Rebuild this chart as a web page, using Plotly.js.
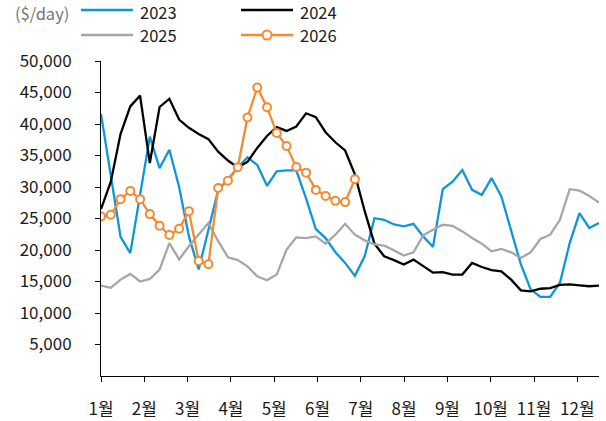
<!DOCTYPE html>
<html>
<head>
<meta charset="utf-8">
<script src="https://cdn.plot.ly/plotly-3.0.1.min.js"></script>
<style>html,body{margin:0;padding:0;background:#fff;}#chart{width:606px;height:421px;}</style>
</head>
<body>
<div id="chart"></div>
<script>
// ---- data (weekly, $/day) ----
const monthLabels = ['1월','2월','3월','4월','5월','6월','7월','8월','9월','10월','11월','12월'];
const seriesNames = ['2023','2024','2025','2026'];
const y2023 = [41600,31900,22100,19500,28800,38000,33000,35900,30000,22200,16900,23000,29500,31200,33100,34700,33500,30200,32500,32650,32650,28200,23300,21900,19650,17950,15900,19000,25050,24800,24050,23750,24150,22150,20500,29650,30850,32700,29550,28750,31400,28500,23200,17700,13750,12550,12550,14800,21100,25850,23500,24300];
const y2024 = [26500,30800,38400,42800,44500,33800,42700,44000,40700,39400,38400,37600,35600,34200,33100,34000,36200,38100,39500,38900,39600,41700,41100,38700,37100,35800,32000,26200,21000,19000,18400,17700,18470,17420,16400,16500,16100,16100,17950,17300,16800,16600,15300,13600,13450,13850,13950,14450,14550,14400,14250,14350];
const y2025 = [14350,14000,15300,16200,15000,15400,16900,21100,18500,20600,22450,24280,21400,18850,18400,17400,15830,15200,16100,20050,22000,21900,22160,21000,22430,24150,22430,21530,20890,20690,19950,19110,19630,22320,23220,24010,23850,22950,21900,21000,19790,20160,19630,18740,19630,21740,22430,24800,29650,29430,28590,27530];
const y2026 = [25320,25590,28070,29380,28070,25700,23850,22370,23370,26170,18260,17730,29860,31010,33130,41040,45780,42670,38560,36500,33180,32280,29540,28590,27800,27600,31230];
const yTicks = [5000,10000,15000,20000,25000,30000,35000,40000,45000,50000];

// ---- styling ----
const FONT = '"Noto Sans CJK KR", "Noto Sans", sans-serif';
const colors = {'2023':'#0f96d8','2024':'#000000','2025':'#a6a6a6','2026':'#f58a30'};
const W = 606, H = 421, M = {l:101, r:7, t:61, b:45};
const nWeeks = y2023.length;
const xIdx = n => Array.from({length:n}, (_, i) => i);
const tickPos = monthLabels.map((_, k) => k * (nWeeks - 1) / 11.5);

const traces = [
  {name:'2023', x:xIdx(y2023.length), y:y2023, mode:'lines', line:{color:colors['2023'], width:2.3}},
  {name:'2024', x:xIdx(y2024.length), y:y2024, mode:'lines', line:{color:colors['2024'], width:2.3}},
  {name:'2025', x:xIdx(y2025.length), y:y2025, mode:'lines', line:{color:colors['2025'], width:2.3}},
  {name:'2026', x:xIdx(y2026.length), y:y2026, mode:'lines+markers', line:{color:colors['2026'], width:2.3},
   marker:{symbol:'circle', size:8, color:'#ffffff', line:{color:colors['2026'], width:2}}}
];

// pixel -> paper helpers for the hand-built legend
const pw = W - M.l - M.r, ph = H - M.t - M.b;
const px = v => (v - M.l) / pw;
const py = v => (H - M.b - v) / ph;

const legendItems = [
  {name:'2023', x0:81, y:10, ty:12},
  {name:'2024', x0:241, y:10, ty:12},
  {name:'2025', x0:81, y:35, ty:35},
  {name:'2026', x0:241, y:35, ty:35, marker:true}
];
const shapes = [], annotations = [];
legendItems.forEach(it => {
  shapes.push({type:'line', xref:'paper', yref:'paper', x0:px(it.x0), x1:px(it.x0+52), y0:py(it.y), y1:py(it.y),
    line:{color:colors[it.name], width:2.3}});
  if (it.marker) {
    shapes.push({type:'circle', xref:'paper', yref:'paper', xsizemode:'pixel', ysizemode:'pixel',
      xanchor:px(it.x0+26), yanchor:py(it.y), x0:-4.5, x1:4.5, y0:-4.5, y1:4.5,
      fillcolor:'#ffffff', line:{color:colors[it.name], width:2}});
  }
  annotations.push({text:it.name, xref:'paper', yref:'paper', x:px(it.x0+57), y:py(it.ty),
    xanchor:'left', yanchor:'middle', showarrow:false, font:{family:FONT, size:16.5, color:'#1a1a1a'}});
});
annotations.push({text:'($/day)', xref:'paper', yref:'paper', x:px(13), y:py(13),
  xanchor:'left', yanchor:'middle', showarrow:false, font:{family:FONT, size:16.5, color:'#767676'}});

const layout = {
  width:W, height:H, margin:M,
  paper_bgcolor:'#ffffff', plot_bgcolor:'#ffffff',
  font:{family:FONT, size:17, color:'#1a1a1a'},
  showlegend:false,
  xaxis:{range:[0, nWeeks-1], tickmode:'array', tickvals:tickPos, ticktext:monthLabels,
    showline:true, linecolor:'#000', linewidth:1, ticks:'outside', ticklen:5, tickcolor:'#000', tickwidth:1,
    showgrid:false, zeroline:false, ticklabelstandoff:13, tickfont:{family:FONT, size:17, color:'#1a1a1a'}},
  yaxis:{range:[0, 50000], tickmode:'array', tickvals:yTicks, tickformat:',d',
    showline:true, linecolor:'#000', linewidth:1, ticks:'outside', ticklen:5, tickcolor:'#000', tickwidth:1,
    showgrid:false, zeroline:false, ticklabelstandoff:20, tickfont:{family:FONT, size:17, color:'#1a1a1a'}},
  shapes:shapes, annotations:annotations
};

Plotly.newPlot('chart', traces, layout, {staticPlot:true, displayModeBar:false});
</script>
</body>
</html>
